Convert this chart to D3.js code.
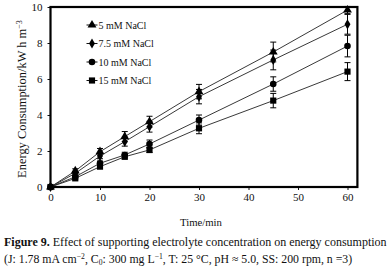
<!DOCTYPE html>
<html><head><meta charset="utf-8">
<script src="https://cdn.jsdelivr.net/npm/d3@7"></script>
<style>
html,body{margin:0;padding:0;background:#fff;}
text{font-family:"Liberation Serif","Times New Roman",serif;fill:#111;}
</style></head>
<body><svg id="c" width="389" height="269"></svg>
<script>
const times = [0, 5, 10, 15, 20, 30, 45, 60];
const seriesNames = ["5 mM NaCl", "7.5 mM NaCl", "10 mM NaCl", "15 mM NaCl"];
const symbols = ["triangle", "diamond", "circle", "square"];
const values5 = [0, 0.89, 1.96, 2.80, 3.63, 5.30, 7.50, 9.83];
const values75 = [0, 0.76, 1.72, 2.52, 3.35, 5.02, 7.06, 9.04];
const values10 = [0, 0.57, 1.32, 1.78, 2.39, 3.72, 5.72, 7.83];
const values15 = [0, 0.48, 1.13, 1.68, 2.06, 3.26, 4.80, 6.41];
const err5 = [0, 0.12, 0.18, 0.28, 0.30, 0.40, 0.55, 0.20];
const err75 = [0, 0.10, 0.15, 0.25, 0.30, 0.40, 0.55, 0.55];
const err10 = [0, 0.08, 0.12, 0.15, 0.22, 0.28, 0.40, 0.60];
const err15 = [0, 0.08, 0.10, 0.12, 0.15, 0.30, 0.40, 0.50];
const xTicks = [0, 10, 20, 30, 40, 50, 60];
const yTicks = [0, 2, 4, 6, 8, 10];

const allValues = [values5, values75, values10, values15];
const allErr = [err5, err75, err10, err15];

const svg = d3.select("#c");
const x = d3.scaleLinear().domain([0, 62]).range([50.5, 357.4]);
const y = d3.scaleLinear().domain([0, 10]).range([187, 7]);

// axes
const gx = svg.append("g").attr("transform", "translate(0,187)")
  .call(d3.axisBottom(x).tickValues(xTicks).tickSize(3).tickPadding(3).tickFormat(d3.format("d")));
const gy = svg.append("g").attr("transform", "translate(50.5,0)")
  .call(d3.axisLeft(y).tickValues(yTicks).tickSize(3).tickPadding(5).tickFormat(d3.format("d")));
[gx, gy].forEach(g => {
  g.select(".domain").remove();
  g.selectAll(".tick line").attr("stroke", "#111").attr("stroke-width", 1);
  g.selectAll(".tick text").style("font-family", '"Liberation Serif",serif').style("font-size", "11px").attr("fill", "#111");
});

// frame
svg.append("rect").attr("x", x(0)).attr("y", y(10)).attr("width", x(62) - x(0)).attr("height", y(0) - y(10))
  .attr("fill", "none").attr("stroke", "#000").attr("stroke-width", 2.2);

const symGen = d3.symbol();
const symType = {triangle: d3.symbolTriangle, diamond: d3.symbolDiamond, circle: d3.symbolCircle, square: d3.symbolSquare};
const symSize = {triangle: 34, diamond: 30, circle: 34, square: 38};

const line = d3.line().x((d, i) => x(times[i])).y(d => y(d));

allValues.forEach((vals, si) => {
  const g = svg.append("g");
  g.append("path").attr("d", line(vals)).attr("fill", "none").attr("stroke", "#222").attr("stroke-width", 0.9);
  // error bars
  vals.forEach((v, i) => {
    const e = allErr[si][i];
    if (e <= 0) return;
    const cx = x(times[i]);
    g.append("line").attr("x1", cx).attr("x2", cx).attr("y1", y(v - e)).attr("y2", y(v + e)).attr("stroke", "#000").attr("stroke-width", 1);
    [v - e, v + e].forEach(t => g.append("line").attr("x1", cx - 3).attr("x2", cx + 3).attr("y1", y(t)).attr("y2", y(t)).attr("stroke", "#000").attr("stroke-width", 1));
  });
  vals.forEach((v, i) => {
    g.append("path").attr("d", symGen.type(symType[symbols[si]]).size(symSize[symbols[si]])())
      .attr("transform", `translate(${x(times[i])},${y(v)})`).attr("fill", "#000");
  });
});

// legend
const legY = [25, 43.5, 62, 80.5];
seriesNames.forEach((name, i) => {
  const g = svg.append("g").attr("transform", `translate(0,${legY[i]})`);
  g.append("line").attr("x1", 86.5).attr("x2", 97.5).attr("y1", 0).attr("y2", 0).attr("stroke", "#111").attr("stroke-width", 1);
  g.append("path").attr("d", symGen.type(symType[symbols[i]]).size(symSize[symbols[i]])()).attr("transform", "translate(92,0)").attr("fill", "#000");
  g.append("text").attr("x", 98.5).attr("y", 0).attr("dy", "0.35em").style("font-size", "10px").text(name);
});

function fit(sel, w) {
  const n = sel.node(); const cur = n.getComputedTextLength();
  const fs = parseFloat(sel.style("font-size"));
  sel.style("font-size", (fs * w / cur) + "px");
}

// y title
const yt = svg.append("text").attr("transform", "translate(25.5,99) rotate(-90)").attr("text-anchor", "middle")
  .style("font-size", "12px");
yt.append("tspan").text("Energy Consumption/kW h m");
yt.append("tspan").attr("dy", -4).style("font-size", "8px").text("−3");
fit(yt, 158);
yt.select("tspan:nth-child(2)").style("font-size", (parseFloat(yt.style("font-size")) * 0.65) + "px");

// x title
const xt = svg.append("text").attr("x", 201).attr("y", 226).attr("text-anchor", "middle").style("font-size", "10.5px").text("Time/min");
fit(xt, 42);

// caption
const c1 = svg.append("text").attr("x", 4).attr("y", 246).style("font-size", "11px").attr("fill", "#231f20");
c1.append("tspan").style("font-weight", "bold").text("Figure 9.");
c1.append("tspan").text(" Effect of supporting electrolyte concentration on energy consumption");
fit(c1, 383);
const c2 = svg.append("text").attr("x", 4).attr("y", 263).style("font-size", "11px").attr("fill", "#231f20");
c2.append("tspan").text("(J: 1.78 mA cm");
c2.append("tspan").attr("dy", -4).style("font-size", "7px").text("−2");
c2.append("tspan").attr("dy", 4).text(", C");
c2.append("tspan").attr("dy", 2).style("font-size", "7px").text("0");
c2.append("tspan").attr("dy", -2).text(": 300 mg L");
c2.append("tspan").attr("dy", -4).style("font-size", "7px").text("−1");
c2.append("tspan").attr("dy", 4).text(", T: 25 °C, pH ≈ 5.0, SS: 200 rpm, n =3)");
fit(c2, 348);
c2.selectAll("tspan").filter((d, i) => i === 1 || i === 3 || i === 5).style("font-size", (parseFloat(c2.style("font-size")) * 0.65) + "px");
</script></body></html>
